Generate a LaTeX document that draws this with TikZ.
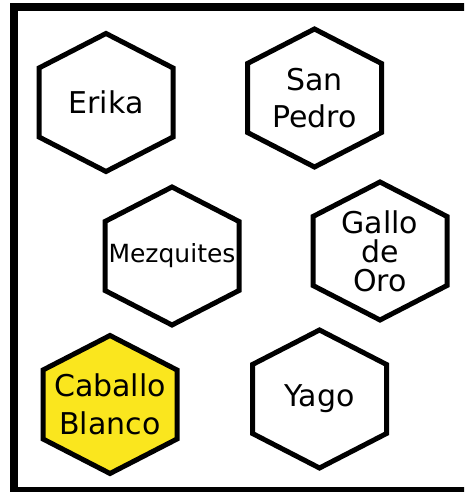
\documentclass[tikz,border=0pt]{standalone}
\usepackage{fontspec}
\setmainfont{DejaVu Sans}
\definecolor{hexyellow}{RGB}{250,230,30}
\tikzset{
  hexa/.style={insert path={+(0,69) -- +(67,34.5) -- +(67,-34.5) -- +(0,-69) -- +(-67,-34.5) -- +(-67,34.5) -- cycle}},
  hexline/.style={draw,line width=5pt,line join=miter,fill=white},
  lbl/.style={align=center,inner sep=0pt,font=\fontsize{30}{37.5}\selectfont},
  frame/.style={draw,line width=8pt}
}

\begin{document}
\begin{tikzpicture}[x=1pt,y=1pt]
          \useasboundingbox (0,0) rectangle (464,492);
          \clip (0,0) rectangle (464,492);
          \draw[frame] (13.5,0.5) rectangle (472,484.5);
          \draw[hexline] (106,389.5) node[lbl] (erika) {Erika} [hexa];
          \draw[hexline] (314.5,394) node[lbl] (sanpedro) {San\\Pedro} [hexa];
          \draw[hexline] (172,236) node[lbl,font=\fontsize{25}{30}\selectfont] (mezquites) {Mezquites} [hexa];
          \draw[hexline] (380,241) node[lbl,font=\fontsize{30}{29}\selectfont] (gallo) {Gallo\\de\\Oro} [hexa];
          \draw[hexline,fill=hexyellow] (110,87.5) node[lbl] (caballo) {Caballo\\Blanco} [hexa];
          \draw[hexline] (319.5,93) node[lbl] (yago) {Yago} [hexa];
        \end{tikzpicture}
\end{document}
